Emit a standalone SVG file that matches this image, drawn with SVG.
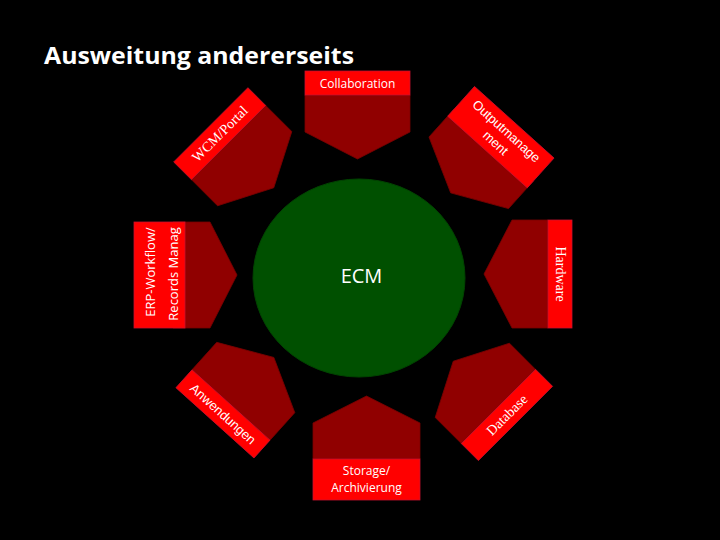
<svg xmlns="http://www.w3.org/2000/svg" width="720" height="540" viewBox="0 0 720 540">
<style>
.pent{fill:#900000;stroke:#7a0000;stroke-width:0.8}
.lab{fill:#ff0000;stroke:#c8102e;stroke-width:0.8}
.sans{fill:#ffffff;font-family:"Open Sans","Liberation Sans",Arial,sans-serif}
.ar{fill:#ffffff;font-family:"Liberation Sans",Arial,sans-serif;font-size:13px}
.ser{fill:#ffffff;font-family:"Liberation Serif","Times New Roman",serif;font-size:14px}
</style>
<rect x="0" y="0" width="720" height="540" fill="#000000"/>
<text x="44" y="64" class="sans" font-size="24" font-weight="bold" textLength="310" lengthAdjust="spacingAndGlyphs">Ausweitung andererseits</text>

<g id="ecm">
<ellipse cx="359" cy="278" rx="106" ry="99" fill="#005000" stroke="#004400" stroke-width="1"/>
<text x="361.5" y="283" class="sans" font-size="20" text-anchor="middle">ECM</text>
</g>

<g id="collaboration">
<g transform="translate(357.5,95)">
<path class="pent" d="M-52.5,0 H52.5 V37 L0,64 L-52.5,37 Z"/>
<rect class="lab" x="-52.5" y="-24" width="105" height="24"/>
</g>
<text x="357.5" y="87.5" class="sans" font-size="12" text-anchor="middle">Collaboration</text>
</g>

<g id="wcm-portal">
<g transform="translate(228.5,142.5) rotate(-45)">
<path class="pent" d="M-52.5,0 H52.5 V37 L0,64 L-52.5,37 Z"/>
<rect class="lab" x="-52.5" y="-25" width="105" height="25"/>
</g>
<text transform="translate(220,134) rotate(-45)" y="4.5" class="ser" text-anchor="middle">WCM/Portal</text>
</g>

<g id="outputmanagement">
<g transform="translate(487.5,152) rotate(42)">
<path class="pent" d="M-53.5,-9 H53.5 V28 L0,55 L-53.5,28 Z"/>
<rect class="lab" x="-53.5" y="-40" width="107" height="40"/>
</g>
<text transform="translate(501,137) rotate(42)" class="ar" text-anchor="middle"><tspan x="0" y="-3.5">Outputmanage</tspan><tspan x="0" y="12.5">ment</tspan></text>
</g>

<g id="hardware">
<g transform="translate(548,274) rotate(90)">
<path class="pent" d="M-54,0 H54 V36 L0,64 L-54,36 Z"/>
<rect class="lab" x="-54" y="-24" width="108" height="24"/>
</g>
<text transform="translate(560,274) rotate(90)" y="4.5" class="ser" text-anchor="middle">Hardware</text>
</g>

<g id="database">
<g transform="translate(498.5,406.5) rotate(135)">
<path class="pent" d="M-52.5,0 H52.5 V37 L0,64 L-52.5,37 Z"/>
<rect class="lab" x="-52.5" y="-24" width="105" height="24"/>
</g>
<text transform="translate(507,415) rotate(-45)" y="4.5" class="ser" text-anchor="middle">Database</text>
</g>

<g id="storage">
<g transform="translate(366.5,459) rotate(180)">
<path class="pent" d="M-53.5,0 H53.5 V36 L0,63 L-53.5,36 Z"/>
<rect class="lab" x="-53.5" y="-41" width="107" height="41"/>
</g>
<text class="sans" font-size="12" text-anchor="middle"><tspan x="366.5" y="475">Storage/</tspan><tspan x="366.5" y="492">Archivierung</tspan></text>
</g>

<g id="anwendungen">
<g transform="translate(231,405) rotate(222)">
<path class="pent" d="M-52.5,0 H52.5 V37 L0,64 L-52.5,37 Z"/>
<rect class="lab" x="-52.5" y="-24" width="105" height="24"/>
</g>
<text transform="translate(223,414) rotate(42)" y="4.5" class="ar" text-anchor="middle">Anwendungen</text>
</g>

<g id="erp-workflow">
<g transform="translate(185,275) rotate(-90)">
<path class="pent" d="M-53,-12 H53 V25 L0,52 L-53,25 Z"/>
<rect class="lab" x="-53" y="-51" width="106" height="51"/>
</g>
<text transform="translate(155,272) rotate(-90)" class="sans" font-size="13" text-anchor="middle">ERP-Workflow/</text>
<text transform="translate(178,274) rotate(-90)" class="sans" font-size="13" text-anchor="middle">Records Manag</text>
</g>

<g id="connectors"></g>
</svg>
